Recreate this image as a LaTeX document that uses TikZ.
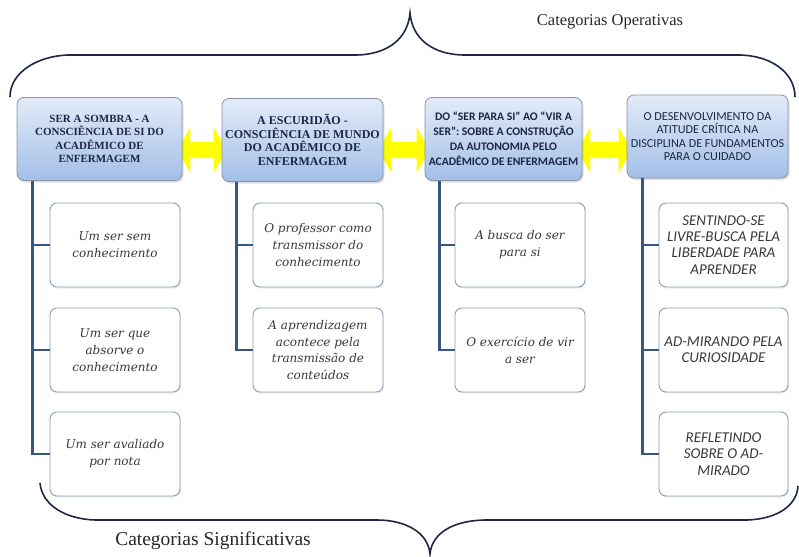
\documentclass[tikz,border=0pt]{standalone}
\usepackage{fontspec}
\setmainfont{Liberation Serif}
\newfontfamily\subserif{DejaVu Serif}
\newfontfamily\sansfam{Carlito}
\usetikzlibrary{calc,backgrounds,shadows}
\definecolor{navy}{HTML}{1B2745}
\definecolor{connblue}{HTML}{365684}
\definecolor{subborder}{HTML}{8C9CB0}
\definecolor{boxtop}{HTML}{E3EBF8}
\definecolor{boxbot}{HTML}{A3BFE8}
\definecolor{boxborder}{HTML}{8893A5}
\definecolor{subtext}{HTML}{383838}
\definecolor{yarrow}{HTML}{FFFF00}
\begin{document}
\begin{tikzpicture}[x=1pt,y=-1pt,
  mainbox/.style={rounded corners=7pt, draw=boxborder, line width=0.8pt,
    top color=boxtop, bottom color=boxbot, align=center, inner sep=1pt,
    text=navy, minimum height=83pt,
    drop shadow={shadow xshift=1.5pt,shadow yshift=-2pt,opacity=0.25}},
  serifhead/.style={mainbox, font=\bfseries\fontsize{12}{13.5}\selectfont},
  sanshead/.style={mainbox, font=\sansfam\bfseries\fontsize{11.6}{15}\selectfont},
  sanslight/.style={mainbox, font=\sansfam\fontsize{12.2}{13.6}\selectfont},
  subbox/.style={rounded corners=7pt, draw=subborder, line width=0.9pt,
    fill=white, minimum width=130pt, minimum height=84pt, align=center,
    text=subtext, inner sep=1pt, font=\subserif\itshape\fontsize{12}{16.8}\selectfont,
    drop shadow={shadow xshift=1pt,shadow yshift=-1.5pt,opacity=0.15}},
  subsans/.style={subbox, font=\sansfam\itshape\fontsize{15}{16.2}\selectfont},
  conn/.style={draw=connblue, line width=2.6pt},
  brace/.style={draw=navy, line width=1.6pt},
  yarr/.style={fill=yarrow, draw=none}
]
\useasboundingbox (0,0) rectangle (799,556);

% main boxes
\node[serifhead, minimum width=165pt, font=\bfseries\fontsize{11}{13.5}\selectfont] (A) at (99.5,139)
  {SER A SOMBRA - A\\CONSCIÊNCIA DE SI DO\\ACADÊMICO DE\\ENFERMAGEM};
\node[serifhead, minimum width=161pt] (B) at (302.5,140)
  {A ESCURIDÃO -\\CONSCIÊNCIA DE MUNDO\\DO ACADÊMICO DE\\ENFERMAGEM};
\node[sanshead, minimum width=157pt] (C) at (503.5,139)
  {DO “SER PARA SI” AO “VIR A\\SER”: SOBRE A CONSTRUÇÃO\\DA AUTONOMIA PELO\\ACADÊMICO DE ENFERMAGEM};
\node[sanslight, minimum width=161pt] (D) at (707.5,136.5)
  {O DESENVOLVIMENTO DA\\ATITUDE CRÍTICA NA\\DISCIPLINA DE FUNDAMENTOS\\PARA O CUIDADO};

% sub boxes
\node[subbox] (a1) at (115,245) {Um ser sem\\conhecimento};
\node[subbox] (a2) at (115,350) {Um ser que\\absorve o\\conhecimento};
\node[subbox] (a3) at (115,454) {Um ser avaliado\\por nota};
\node[subbox] (b1) at (318,245) {O professor como\\transmissor do\\conhecimento};
\node[subbox] (b2) at (318,350) {A aprendizagem\\acontece pela\\transmissão de\\conteúdos};
\node[subbox] (c1) at (520,245) {A busca do ser\\para si};
\node[subbox] (c2) at (520,350) {O exercício de vir\\a ser};
\node[subsans, minimum width=129pt] (d1) at (723.5,245) {SENTINDO-SE\\LIVRE-BUSCA PELA\\LIBERDADE PARA\\APRENDER};
\node[subsans, minimum width=129pt] (d2) at (723.5,350) {AD-MIRANDO PELA\\CURIOSIDADE};
\node[subsans, minimum width=129pt] (d3) at (723.5,454) {REFLETINDO\\SOBRE O AD-\\MIRADO};

% connectors
\foreach \s in {a1,a2,a3} \draw[conn] ([xshift=16pt]A.south west) |- (\s.west);
\foreach \s in {b1,b2} \draw[conn] ([xshift=15pt]B.south west) |- (\s.west);
\foreach \s in {c1,c2} \draw[conn] ([xshift=15pt]C.south west) |- (\s.west);
\foreach \s in {d1,d2,d3} \draw[conn] ([xshift=16pt]D.south west) |- (\s.west);

% yellow double arrows
\begin{pgfonlayer}{background}
\foreach \l/\r in {A/B,B/C,C/D}{
  \path let \p1=([xshift=-5pt]\l.east), \p2=([xshift=5pt]\r.west),
            \p3=(0,150) in
    [yarr] (\x1,\y3) -- (\x1+13pt,\y3+23pt) -- (\x1+13pt,\y3+8pt)
    -- (\x2-13pt,\y3+8pt) -- (\x2-13pt,\y3+23pt) -- (\x2,\y3)
    -- (\x2-13pt,\y3-23pt) -- (\x2-13pt,\y3-8pt) -- (\x1+13pt,\y3-8pt)
    -- (\x1+13pt,\y3-23pt) -- cycle;
}
\end{pgfonlayer}

% braces
\draw[brace] (10,97) .. controls (10,72) and (38,56) .. (68,55) -- (355,55)
  .. controls (388,55) and (408,38) .. (410,13)
  .. controls (412,38) and (432,55) .. (465,55) -- (738,55)
  .. controls (770,55) and (795,72) .. (795,97);
\draw[brace] (40,483) .. controls (42,505) and (65,519) .. (95,520) -- (377,520)
  .. controls (405,520) and (428,532) .. (430,554)
  .. controls (432,532) and (455,520) .. (487,520) -- (747,520)
  .. controls (778,519) and (797,505) .. (798,486);

% labels
\node[font=\fontsize{16.5}{18}\selectfont, text=black!85] (top) at (610,22) {Categorias Operativas};
\node[font=\fontsize{19.5}{22}\selectfont, text=black!85] (bot) at (213,541) {Categorias Significativas};
\end{tikzpicture}
\end{document}
